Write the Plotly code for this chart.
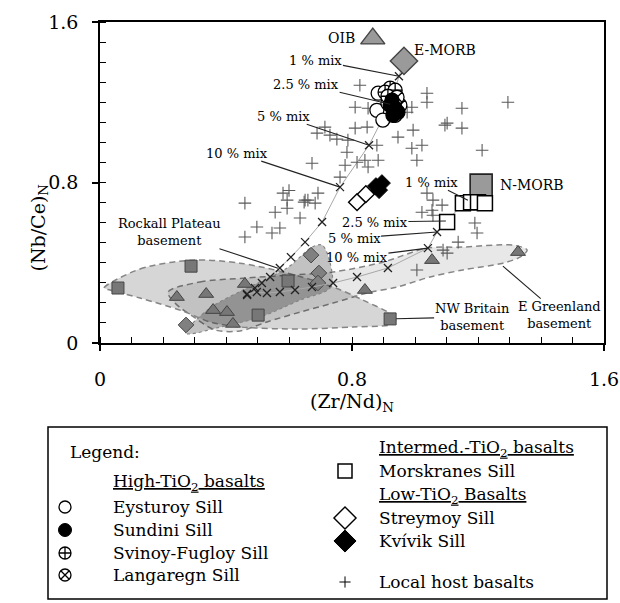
import plotly.graph_objects as go

W, H = 620, 603
FONT = "DejaVu Serif"

# ---------------- data ----------------
# mantle end-members
oib_x, oib_y = [0.866], [1.517]
emorb_x, emorb_y = [0.965], [1.406]
nmorb_x, nmorb_y = [1.210], [0.787]

# High-TiO2 basalts
eysturoy_x = [0.883, 0.879, 0.898, 0.914, 0.937]
eysturoy_y = [1.245, 1.160, 1.111, 1.195, 1.135]
sundini_x = [0.927, 0.937, 0.946, 0.930, 0.921]
sundini_y = [1.210, 1.170, 1.150, 1.135, 1.185]
svinoy_x = [0.921, 0.905, 0.937, 0.914]
svinoy_y = [1.270, 1.250, 1.260, 1.230]
langaregn_x = [0.952, 0.943]
langaregn_y = [1.185, 1.225]

# Intermediate-TiO2 basalts
morskranes_x = [1.152, 1.178, 1.200, 1.222, 1.102]
morskranes_y = [0.697, 0.702, 0.702, 0.697, 0.603]

# Low-TiO2 basalts
streymoy_x = [0.816, 0.844]
streymoy_y = [0.702, 0.742]
kvivik_x = [0.876, 0.895, 0.886]
kvivik_y = [0.782, 0.797, 0.762]

# local host basalts
host_x = [0.714, 0.689, 0.730, 0.752, 0.784, 0.673, 0.778, 0.762, 0.825, 1.038,
          1.038, 0.810, 0.851, 0.990, 1.149, 0.975, 1.102, 1.149, 0.810, 0.848,
          0.994, 0.946, 0.787, 0.879, 0.990, 1.022, 1.213, 1.006, 0.816, 0.841,
          0.851, 0.883, 0.581, 0.594, 0.651, 0.692, 0.683, 1.295, 1.095, 0.460,
          0.498, 0.460, 0.546, 0.571, 0.556, 0.594, 0.635, 0.648, 0.660, 1.057,
          1.086, 1.022, 1.054, 1.057, 1.190, 1.197, 1.137, 1.089, 1.102, 1.006,
          1.038, 0.600]
host_y = [1.076, 1.046, 1.036, 1.016, 0.951, 0.896, 0.886, 0.827, 1.285, 1.245,
          1.200, 1.175, 1.170, 1.175, 1.170, 1.150, 1.096, 1.071, 1.071, 1.076,
          1.061, 1.026, 1.011, 0.986, 0.971, 0.986, 0.961, 0.911, 0.901, 0.911,
          0.877, 0.911, 0.747, 0.712, 0.712, 0.747, 0.697, 1.200, 1.086, 0.697,
          0.578, 0.528, 0.548, 0.573, 0.652, 0.672, 0.623, 0.702, 0.712, 0.712,
          0.687, 0.652, 0.662, 0.637, 0.598, 0.548, 0.503, 0.463, 0.448, 0.364,
          0.747, 0.760]

# mixing curves (first point = MORB end-member)
mix_e_x = [0.965, 0.949, 0.921, 0.854, 0.762, 0.705, 0.651, 0.606, 0.571, 0.540, 0.514, 0.492, 0.467]
mix_e_y = [1.406, 1.330, 1.190, 0.986, 0.777, 0.603, 0.503, 0.428, 0.374, 0.329, 0.299, 0.274, 0.239]
mix_n_x = [1.210, 1.168, 1.098, 1.070, 1.041, 0.914, 0.816, 0.740, 0.673, 0.619, 0.571, 0.530, 0.498, 0.467]
mix_n_y = [0.787, 0.712, 0.608, 0.553, 0.473, 0.374, 0.329, 0.299, 0.279, 0.264, 0.254, 0.249, 0.254, 0.244]
mix_labels = ["1 % mix", "2.5 % mix", "5 % mix", "10 % mix"]

# basement samples
nwb_x = [0.057, 0.289, 0.597, 0.502, 0.921]
nwb_y = [0.274, 0.383, 0.309, 0.139, 0.120]
egr_x = [0.244, 0.337, 0.359, 0.403, 0.422, 0.460, 0.841, 1.054, 1.327]
egr_y = [0.229, 0.244, 0.164, 0.154, 0.095, 0.294, 0.264, 0.413, 0.453]
rockall_x = [0.273, 0.670, 0.695, 0.692]
rockall_y = [0.090, 0.438, 0.349, 0.299]

# basement fields (outline vertices)
egr_field_x = [0.216, 0.317, 0.467, 0.603, 0.740, 0.898, 1.038, 1.152, 1.311, 1.356, 1.333, 1.279,
               1.152, 1.048, 0.943, 0.848, 0.740, 0.635, 0.530, 0.444, 0.365, 0.302, 0.238]
egr_field_y = [0.254, 0.304, 0.324, 0.339, 0.354, 0.403, 0.473, 0.478, 0.488, 0.463, 0.428, 0.398,
               0.364, 0.329, 0.279, 0.249, 0.199, 0.154, 0.105, 0.060, 0.065, 0.125, 0.199]
nwb_field_x = [0.013, 0.127, 0.295, 0.444, 0.594, 0.740, 0.835, 0.930, 0.940, 0.930, 0.803,
               0.635, 0.444, 0.349, 0.263, 0.127, 0.032]
nwb_field_y = [0.274, 0.369, 0.413, 0.398, 0.349, 0.279, 0.214, 0.139, 0.120, 0.095, 0.080,
               0.070, 0.080, 0.105, 0.159, 0.224, 0.264]
rockall_field_x = [0.270, 0.349, 0.454, 0.594, 0.673, 0.705, 0.730, 0.733, 0.635, 0.508, 0.371, 0.286]
rockall_field_y = [0.050, 0.174, 0.264, 0.374, 0.478, 0.488, 0.403, 0.279, 0.214, 0.129, 0.075, 0.045]

fig = go.Figure()


def closed(seq):
    return list(seq) + [seq[0]]


# shaded basement fields
for fx, fy, fill, dash, width in [
    (egr_field_x, egr_field_y, "rgba(0,0,0,0.09)", "6px,4px", 1.5),
    (nwb_field_x, nwb_field_y, "rgba(0,0,0,0.16)", "6px,4px", 1.5),
    (rockall_field_x, rockall_field_y, "rgba(0,0,0,0.24)", "dot", 1.2),
]:
    fig.add_trace(go.Scatter(
        x=closed(fx), y=closed(fy), mode="lines", fill="toself", fillcolor=fill,
        line=dict(color="#858585", width=width, dash=dash, shape="spline", smoothing=0.9),
        hoverinfo="skip"))

# basement samples
base_line = dict(color="#444444", width=1)
fig.add_trace(go.Scatter(x=nwb_x, y=nwb_y, mode="markers",
                         marker=dict(symbol="square", size=12, color="#777777", line=base_line)))
fig.add_trace(go.Scatter(x=egr_x, y=egr_y, mode="markers",
                         marker=dict(symbol="triangle-up", size=13, color="#777777", line=base_line)))
fig.add_trace(go.Scatter(x=rockall_x, y=rockall_y, mode="markers",
                         marker=dict(symbol="diamond", size=12, color="#808080", line=base_line)))

# mixing curves
for mx, my in [(mix_e_x, mix_e_y), (mix_n_x, mix_n_y)]:
    fig.add_trace(go.Scatter(x=mx, y=my, mode="lines",
                             line=dict(color="#a8a8a8", width=1), hoverinfo="skip"))
    fig.add_trace(go.Scatter(x=mx[1:], y=my[1:], mode="markers",
                             marker=dict(symbol="x-thin", size=8, line=dict(color="#222222", width=1.3))))

# local host basalts
fig.add_trace(go.Scatter(x=host_x, y=host_y, mode="markers",
                         marker=dict(symbol="cross-thin", size=9, line=dict(color="#5a5a5a", width=1.1))))

# low-TiO2 sills
fig.add_trace(go.Scatter(x=streymoy_x, y=streymoy_y, mode="markers",
                         marker=dict(symbol="diamond", size=13, color="white",
                                     line=dict(color="black", width=1.4))))
fig.add_trace(go.Scatter(x=kvivik_x, y=kvivik_y, mode="markers",
                         marker=dict(symbol="diamond", size=13, color="black",
                                     line=dict(color="black", width=1))))

# MORB / OIB end-members
em_line = dict(color="#444444", width=1.4)
fig.add_trace(go.Scatter(x=nmorb_x, y=nmorb_y, mode="markers",
                         marker=dict(symbol="square", size=22, color="#9a9a9a", line=dict(color="#222222", width=1.6))))
fig.add_trace(go.Scatter(x=emorb_x, y=emorb_y, mode="markers",
                         marker=dict(symbol="diamond", size=21, color="#9a9a9a", line=em_line)))
fig.add_trace(go.Scatter(x=oib_x, y=oib_y, mode="markers",
                         marker=dict(symbol="triangle-up", size=21, color="#9a9a9a", line=em_line)))

# intermediate-TiO2 sill
fig.add_trace(go.Scatter(x=morskranes_x, y=morskranes_y, mode="markers",
                         marker=dict(symbol="square", size=15, color="white",
                                     line=dict(color="black", width=1.5))))

# high-TiO2 sills
ring = dict(color="black", width=1.3)
fig.add_trace(go.Scatter(x=eysturoy_x, y=eysturoy_y, mode="markers",
                         marker=dict(symbol="circle", size=14, color="white", line=ring)))
fig.add_trace(go.Scatter(x=svinoy_x, y=svinoy_y, mode="markers",
                         marker=dict(symbol="circle-cross", size=14, color="white", line=ring)))
fig.add_trace(go.Scatter(x=langaregn_x, y=langaregn_y, mode="markers",
                         marker=dict(symbol="circle-x", size=14, color="white", line=ring)))
fig.add_trace(go.Scatter(x=sundini_x, y=sundini_y, mode="markers",
                         marker=dict(symbol="circle", size=14, color="black", line=ring)))

ann = []
lab_font = dict(family=FONT, size=13, color="black")

# mixing-step labels with leader lines
e_offsets = [(-83, -16), (-84, -20), (-86, -29), (-103, -34)]
n_offsets = [(-36, -18), (-71, 1), (-83, 6), (-71, 9)]
for mx, my, offs in [(mix_e_x, mix_e_y, e_offsets), (mix_n_x, mix_n_y, n_offsets)]:
    for i, (txt, (ax, ay)) in enumerate(zip(mix_labels, offs), start=1):
        ann.append(dict(x=mx[i], y=my[i], xref="x", yref="y", text=txt, showarrow=True,
                        ax=ax, ay=ay, arrowhead=0, arrowwidth=1.1, arrowcolor="#222222",
                        standoff=0, font=lab_font, borderpad=0))

# end-member labels
em_font = dict(family=FONT, size=14, color="black")
ann.append(dict(x=oib_x[0], y=oib_y[0], xref="x", yref="y", text="OIB", showarrow=False,
                xanchor="right", xshift=-16, yshift=1, font=em_font))
ann.append(dict(x=emorb_x[0], y=emorb_y[0], xref="x", yref="y", text="E-MORB", showarrow=False,
                xanchor="left", xshift=8, yshift=11, font=em_font))
ann.append(dict(x=nmorb_x[0], y=nmorb_y[0], xref="x", yref="y", text="N-MORB", showarrow=False,
                xanchor="left", xshift=17, yshift=0, font=em_font))

# basement field labels
base_font = dict(family=FONT, size=13, color="black")
ann.append(dict(x=0.565, y=0.373, xref="x", yref="y", text="Rockall Plateau<br>basement",
                showarrow=True, ax=-108, ay=-36, arrowhead=0, arrowwidth=1.1, arrowcolor="#222222",
                standoff=0, font=base_font, align="center", borderpad=0))
ann.append(dict(x=nwb_x[4], y=nwb_y[4], xref="x", yref="y", text="NW Britain<br>basement",
                showarrow=True, ax=82, ay=-2, arrowhead=0, arrowwidth=1.1, arrowcolor="#222222",
                standoff=6, font=base_font, align="center", borderpad=0))
ann.append(dict(x=1.279, y=0.383, xref="x", yref="y", text="E Greenland<br>basement",
                showarrow=True, ax=57, ay=49, arrowhead=0, arrowwidth=1.1, arrowcolor="#222222",
                standoff=0, font=base_font, align="center", borderpad=0))

# axis titles
ann.append(dict(x=352 / W, y=1 - 402 / H, xref="paper", yref="paper",
                text="(Zr/Nd)<sub>N</sub>", showarrow=False, font=dict(family=FONT, size=19)))
ann.append(dict(x=25 / W, y=1 - 182 / H, xref="paper", yref="paper", textangle=-90,
                text="(Nb/Ce)<sub>N</sub>", showarrow=False, font=dict(family=FONT, size=19)))

# ---------------- legend panel (pixel frame on x2/y2) ----------------
leg_font = dict(family=FONT, size=17, color="black")
ann.append(dict(x=68, y=452, xref="x2", yref="y2", text="Legend:", showarrow=False,
                xanchor="left", font=leg_font))
left_header = ("<u>High-TiO<sub>2</sub> basalts</u>", 482)
left_rows = [
    ("Eysturoy Sill", dict(symbol="circle", size=12, color="white", line=dict(color="black", width=1.3)), 507),
    ("Sundini Sill", dict(symbol="circle", size=13, color="black", line=dict(color="black", width=1)), 530),
    ("Svinoy-Fugloy Sill", dict(symbol="circle-cross", size=12, color="white", line=dict(color="black", width=1.3)), 553),
    ("Langaregn Sill", dict(symbol="circle-x", size=12, color="white", line=dict(color="black", width=1.3)), 575),
]
right_headers = [("<u>Intermed.-TiO<sub>2</sub> basalts</u>", 448), ("<u>Low-TiO<sub>2</sub> Basalts</u>", 495)]
right_rows = [
    ("Morskranes Sill", dict(symbol="square", size=14, color="white", line=dict(color="black", width=1.5)), 471),
    ("Streymoy Sill", dict(symbol="diamond", size=17, color="white", line=dict(color="black", width=1.4)), 518),
    ("Kvívik Sill", dict(symbol="diamond", size=17, color="black", line=dict(color="black", width=1)), 541),
    ("Local host basalts", dict(symbol="cross-thin", size=8, line=dict(color="black", width=1)), 582),
]

ann.append(dict(x=111, y=left_header[1], xref="x2", yref="y2", text=left_header[0],
                showarrow=False, xanchor="left", font=leg_font))
for txt, yy in right_headers:
    ann.append(dict(x=377, y=yy, xref="x2", yref="y2", text=txt, showarrow=False,
                    xanchor="left", font=leg_font))
for rows, sx, tx in [(left_rows, 65, 111), (right_rows, 345, 377)]:
    for txt, mk, yy in rows:
        fig.add_trace(go.Scatter(x=[sx], y=[yy], xaxis="x2", yaxis="y2", mode="markers",
                                 marker=mk, hoverinfo="skip"))
        ann.append(dict(x=tx, y=yy, xref="x2", yref="y2", text=txt, showarrow=False,
                        xanchor="left", font=leg_font))

shapes = [dict(type="rect", xref="paper", yref="paper", x0=48 / W, x1=607 / W,
               y0=1 - 599 / H, y1=1 - 427 / H, line=dict(color="black", width=1.5))]

axis_common = dict(
    range=[0, 1.6], tick0=0, dtick=0.8, ticks="outside", ticklen=6, tickwidth=1.5,
    tickcolor="black", showline=True, linewidth=1.5, linecolor="black", mirror=True,
    showgrid=False, zeroline=False, automargin=False,
    tickfont=dict(family=FONT, size=19, color="black"),
    minor=dict(dtick=0.1, tick0=0, ticks="inside", ticklen=6, tickwidth=1,
               tickcolor="black", showgrid=False),
)

fig.update_layout(
    width=W, height=H, margin=dict(l=0, r=0, t=0, b=0), template="none",
    paper_bgcolor="white", plot_bgcolor="rgba(0,0,0,0)", showlegend=False,
    font=dict(family=FONT, color="black"),
    xaxis=dict(domain=[100 / W, 604 / W], anchor="y", ticklabelstandoff=12, **axis_common),
    yaxis=dict(domain=[1 - 343 / H, 1 - 22 / H], anchor="x", ticklabelstandoff=10, **axis_common),
    xaxis2=dict(domain=[0, 1], range=[0, W], anchor="y2", visible=False, fixedrange=True),
    yaxis2=dict(domain=[0, 1], range=[H, 0], anchor="x2", visible=False, fixedrange=True),
    annotations=ann, shapes=shapes,
)

fig.write_html("out.html")
